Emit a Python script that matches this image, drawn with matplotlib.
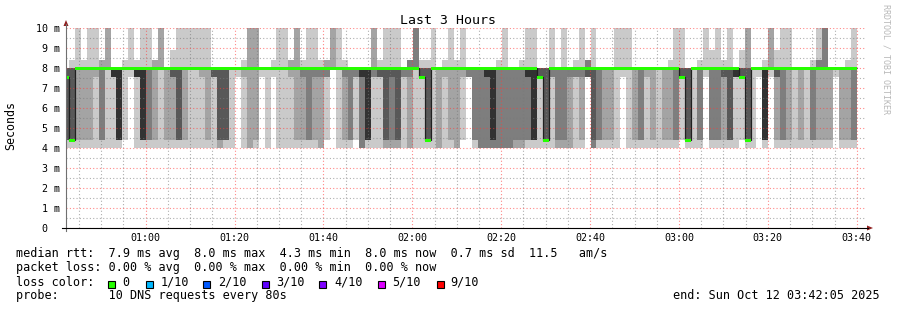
import numpy as np
import matplotlib
matplotlib.use("Agg")
import matplotlib.pyplot as plt
from matplotlib.patches import Rectangle, Polygon

# ---------------- data ----------------
title = "Last 3 Hours"
y_label = "Seconds"
view_start = "00:42:05"
view_end = "03:42:05"
first_round_end = "00:42:46"
round_seconds = 80

# RTT levels (ms) seen in the probe rounds; 10.5 stands for "above the 10 ms top"
rtt_levels_ms = [4.0, 4.38, 7.55, 8.0, 8.4, 8.9, 10.5]
# per 80 s round: how many of the 10 DNS pings fell on each RTT level above
ping_hist = [
    "1324000", "1503100", "1107001", "1107100", "1107001", "1017001", "1205200", "1007002",
    "1045000", "1405000", "0108100", "0018001", "1044100", "1404001", "1206001", "1106200",
    "1007002", "1108000", "1125010", "1305001", "1107001", "1008001", "1008001", "1017001",
    "1107001", "1036000", "2206000", "1306000", "1009000", "0019000", "1017100", "2006002",
    "1106002", "0019000", "1009000", "0018100", "1008001", "1008001", "1016200", "1106002",
    "1116100", "1206001", "1116001", "2016100", "0125200", "0008002", "1008001", "1116100",
    "1207000", "0127000", "3025000", "1405000", "1025002", "1035100", "2205001", "2115001",
    "2205001", "1027000", "2014300", "1006003", "1053100", "1503100", "1008001", "2008000",
    "1017100", "1107001", "2007100", "0117001", "0037000", "1207000", "3007000", "3025000",
    "3205000", "3006100", "3006001", "3007000", "2107000", "2106100", "1224001", "1404001",
    "1054000", "1504000", "1026001", "2107000", "2106001", "2017000", "1026100", "1116001",
    "0043300", "3105001", "1207000", "1108000", "1108000", "1008001", "0018001", "1008001",
    "1108000", "1207000", "1018000", "1108000", "1009000", "1108000", "1107100", "1206001",
    "0153001", "1504000", "1009000", "1206100", "0018001", "1206010", "1206001", "1125100",
    "1305001", "1045000", "0153010", "1502002", "1009000", "0019000", "1404100", "0017002",
    "1125010", "1206001", "1107001", "1009000", "1108000", "1009000", "1206100", "1105201",
    "1105003", "1108000", "0019000", "1108000", "1107100", "1206001",
]

y_ticks = [0, 1, 2, 3, 4, 5, 6, 7, 8, 9, 10]
y_tick_labels = ["0  ", "1 m", "2 m", "3 m", "4 m", "5 m", "6 m", "7 m", "8 m", "9 m", "10 m"]
x_tick_times = ["01:00", "01:20", "01:40", "02:00", "02:20", "02:40", "03:00", "03:20", "03:40"]

loss_labels = ["0", "1/10", "2/10", "3/10", "4/10", "5/10", "9/10"]
loss_colors = ["#26ff00", "#00b8ff", "#0059ff", "#5e00ff", "#7e00ff", "#dd00ff", "#ff0000"]
smoke_colors = ["#cacaca", "#a4a4a4", "#7e7e7e", "#585858", "#323232"]

line_rtt = "median rtt:  7.9 ms avg  8.0 ms max  4.3 ms min  8.0 ms now  0.7 ms sd  11.5   am/s"
line_loss = "packet loss: 0.00 % avg  0.00 % max  0.00 % min  0.00 % now"
line_color = "loss color:"
line_probe = "probe:       10 DNS requests every 80s"
line_end = "end: Sun Oct 12 03:42:05 2025"
watermark = "RRDTOOL / TOBI OETIKER"

# ---------------- drawing ----------------
MONO = "DejaVu Sans Mono"
W, H = 897, 310
fig = plt.figure(figsize=(W / 100, H / 100), dpi=100)
fig.patch.set_facecolor("white")


def to_min(s):
    parts = [int(v) for v in s.split(":")] + [0]
    return parts[0] * 60 + parts[1] + parts[2] / 60.0


step = round_seconds / 60.0
n = len(ping_hist)
ends = to_min(first_round_end) + step * np.arange(n)
lefts = ends - step
levels = np.array(rtt_levels_ms)
pings = np.array([np.sort(np.repeat(levels, [int(c) for c in h])) for h in ping_hist])
npp = pings.shape[1]

ax = fig.add_axes([66 / W, (H - 228) / H, 800 / W, 200 / H])
ax.set_xlim(to_min(view_start), to_min(view_end))
ax.set_ylim(0, 10)

for k in range(npp // 2):
    bot = pings[:, k]
    top = pings[:, npp - 1 - k]
    ax.bar(lefts, top - bot, bottom=bot, width=step, align="edge",
           color=smoke_colors[k], linewidth=0, antialiased=False, zorder=1 + 0.01 * k)

median = pings[:, npp // 2]
edges = np.append(lefts, ends[-1])
ax.stairs(median, edges, baseline=None, color="#202020", lw=0.9, zorder=4)
ax.bar(lefts, 0.15, bottom=median - 0.075, width=step, align="edge",
       color=loss_colors[0], linewidth=0, antialiased=False, zorder=5)

major_x = [to_min(t) for t in x_tick_times]
ax.set_xticks(major_x)
ax.set_xticklabels(x_tick_times)
minor_x = [m for m in np.arange(45, 222, 5) if m not in major_x]
ax.set_xticks(minor_x, minor=True)
ax.set_yticks(y_ticks)
ax.set_yticklabels(y_tick_labels)
ax.set_yticks(np.arange(0.5, 10, 1.0), minor=True)
ax.grid(which="minor", color="#7a7a7a", alpha=0.6, lw=0.8, ls=(0, (1, 2)))
ax.grid(which="major", color="#ff3a3a", alpha=0.6, lw=0.8, ls=(0, (1, 2)))
ax.set_axisbelow(False)
for s in ax.spines.values():
    s.set_visible(False)
ax.tick_params(which="both", length=0)
ax.tick_params(axis="y", pad=4.3, labelsize=7.2)
ax.tick_params(axis="x", pad=3.5, labelsize=7.2)
for lab in ax.get_xticklabels() + ax.get_yticklabels():
    lab.set_fontfamily(MONO)
ax.set_facecolor("none")

# overlay in pixel coordinates for frame decorations and legend
ov = fig.add_axes([0, 0, 1, 1], zorder=10)
ov.set_xlim(0, W)
ov.set_ylim(H, 0)
ov.axis("off")
ov.patch.set_alpha(0)

ov.plot([66, 66], [231, 24], color="#707070", lw=0.8)
ov.plot([62, 868], [228, 228], color="#000000", lw=0.8)
ov.add_patch(Polygon([[63.5, 26], [68.5, 26], [66, 20]], closed=True, color="#902020", lw=0))
ov.add_patch(Polygon([[867, 225.5], [867, 230.5], [873, 228]], closed=True, color="#902020", lw=0))

ov.text(448, 20, title, ha="center", va="center", fontsize=9.5, family=MONO)
ov.text(11, 126, y_label, ha="center", va="center", rotation=90, fontsize=8.4, family=MONO)
ov.text(886, 4, watermark, ha="center", va="top", rotation=270, fontsize=6, family=MONO,
        color="#b8b8b8")

fs = 8.5
ov.text(16, 254, line_rtt, ha="left", va="center", fontsize=fs, family=MONO)
ov.text(16, 268, line_loss, ha="left", va="center", fontsize=fs, family=MONO)
ov.text(16, 282, line_color, ha="left", va="center", fontsize=fs, family=MONO)
ov.text(16, 295.5, line_probe, ha="left", va="center", fontsize=fs, family=MONO)
ov.text(880, 295.5, line_end, ha="right", va="center", fontsize=fs, family=MONO)

box_x = [108, 146, 203, 262, 319, 378, 437]
lab_x = [122, 160.5, 218, 276.5, 334, 392.5, 450]
for bx, lx, lab, col in zip(box_x, lab_x, loss_labels, loss_colors):
    ov.add_patch(Rectangle((bx, 280.5), 7, 7, facecolor=col, edgecolor="black", lw=0.8))
    ov.text(lx, 282, lab, ha="left", va="center", fontsize=fs, family=MONO)

fig.savefig("out.png", dpi=100)
